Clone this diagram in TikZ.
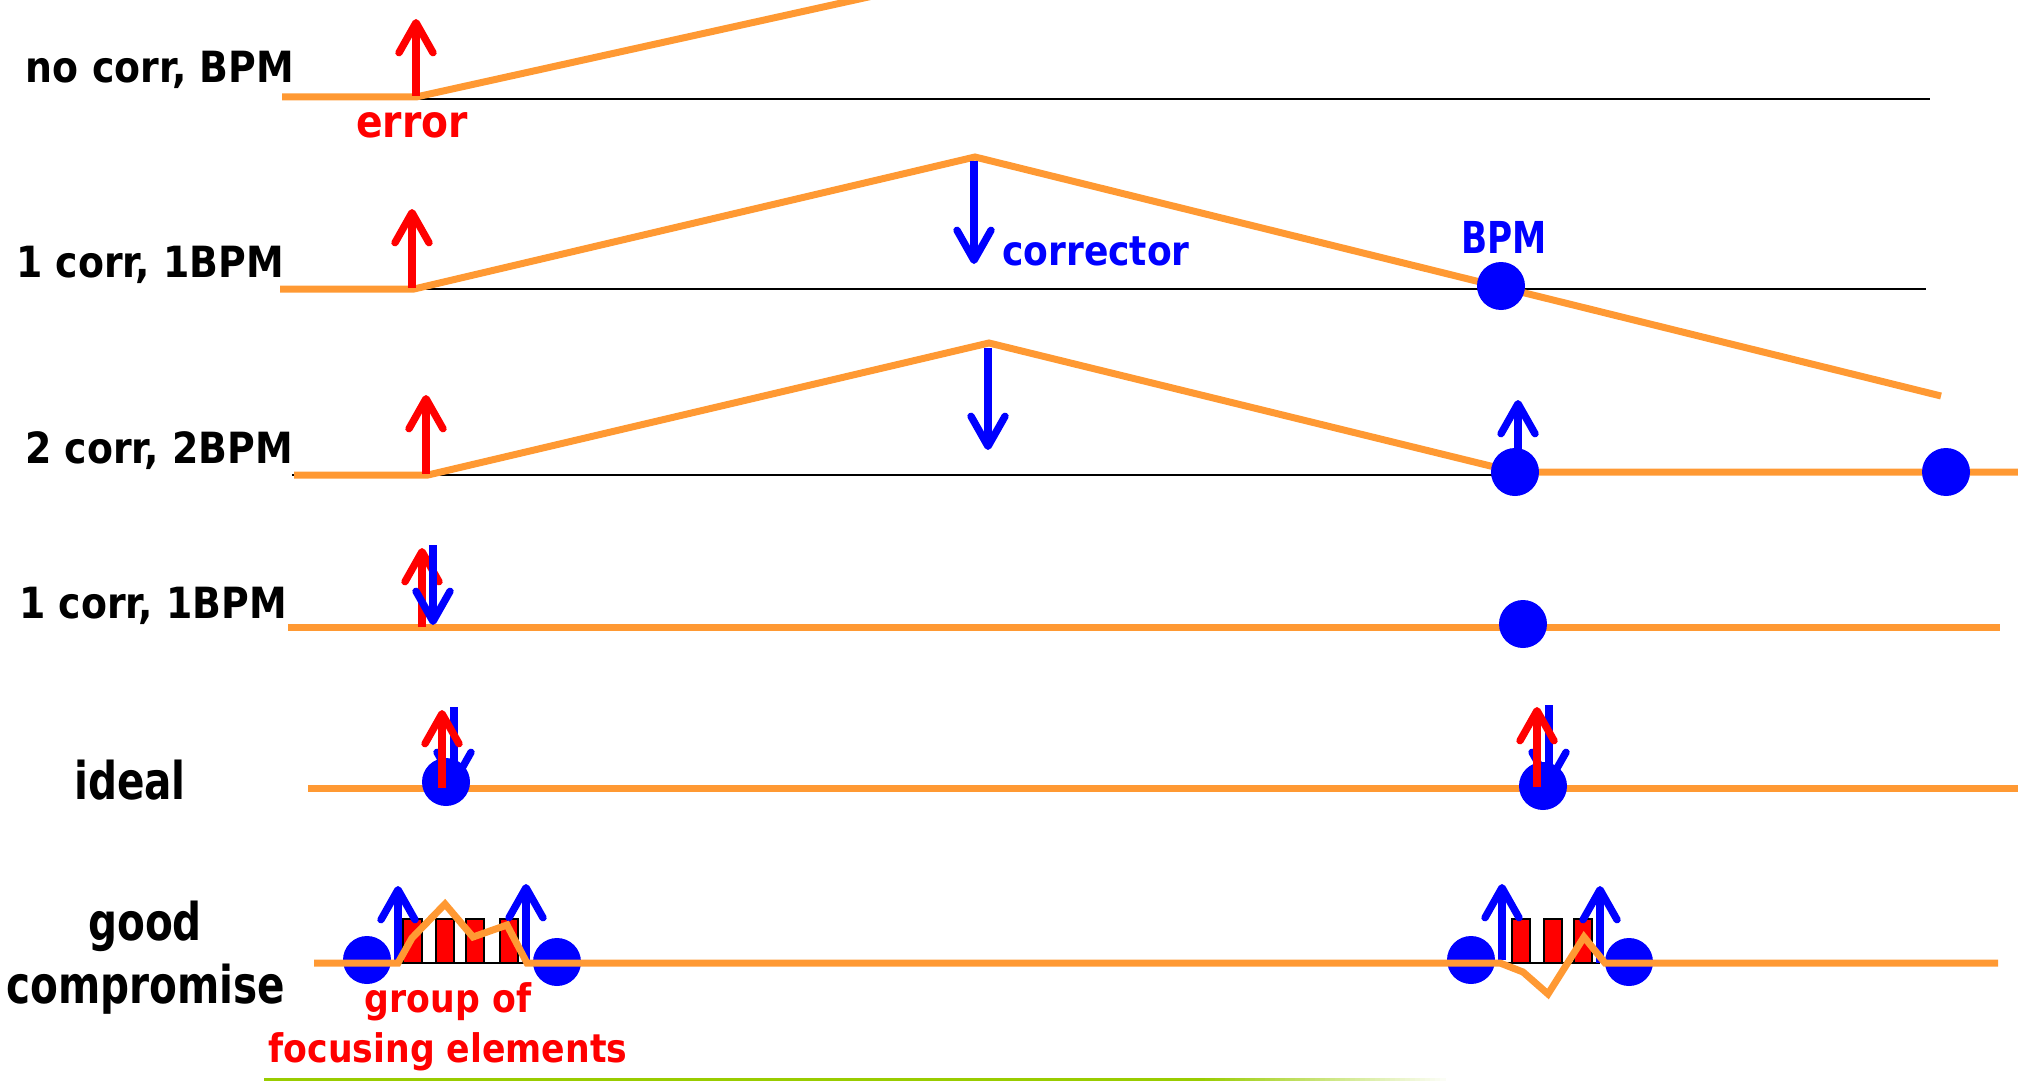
\documentclass[tikz,border=0pt]{standalone}
\usepackage{fontspec}
\usetikzlibrary{arrows.meta}
\newfontfamily\labfont[FakeStretch=0.88]{DejaVu Sans}
\newfontfamily\labfontn[FakeStretch=0.78]{DejaVu Sans}
\definecolor{beam}{RGB}{255,153,51}
\definecolor{bpmblue}{RGB}{0,0,255}
\definecolor{errred}{RGB}{255,0,0}
\definecolor{limegreen}{RGB}{153,204,0}
\tikzset{
  orbit/.style={draw=beam, line width=3.5pt},
  axisline/.style={draw=black, line width=1pt},
  kick/.style={line width=3.7pt, -{Straight Barb[length=15pt,width=17pt,round]}},
  errkick/.style={kick, draw=errred},
  corrkick/.style={kick, draw=bpmblue},
  bpm/.style={circle, fill=bpmblue, minimum size=24pt, inner sep=0pt},
  magnet/.style={fill=errred, draw=black, line width=1pt},
  lab/.style={inner sep=0pt, anchor=base, font=\labfont\bfseries\fontsize{21.5pt}{24pt}\selectfont},
  bigl/.style={inner sep=0pt, anchor=base, font=\labfontn\bfseries\fontsize{26pt}{28pt}\selectfont},
}
\begin{document}
\begin{tikzpicture}[x=0.5pt, y=-0.5pt]
\useasboundingbox (0,0) rectangle (2018,1081);

% ---------- row 1: no corr, BPM
\coordinate (a1s) at (416,99); \coordinate (a1e) at (1930,99);
\draw[axisline] (a1s) -- (a1e);
\coordinate (o1s) at (282,97); \coordinate (o1k) at (416,97); \coordinate (o1e) at (900,-10);
\draw[orbit] (o1s) -- (o1k) -- (o1e);
\coordinate (e1b) at (416,96); \coordinate (e1t) at (416,19);
\draw[errkick] (e1b) -- (e1t);
\node[lab] (t1) at (160,83) {no corr, BPM};
\node[lab, text=errred, font=\labfont\bfseries\fontsize{22.3pt}{24pt}\selectfont] (terr) at (412,138) {error};

% ---------- row 2: 1 corr, 1BPM
\coordinate (a2s) at (414,289); \coordinate (a2e) at (1926,289);
\draw[axisline] (a2s) -- (a2e);
\coordinate (o2s) at (280,289); \coordinate (o2k) at (414,289);
\coordinate (o2p) at (975,157); \coordinate (o2e) at (1941,396);
\draw[orbit] (o2s) -- (o2k) -- (o2p) -- (o2e);
\coordinate (e2b) at (412,288); \coordinate (e2t) at (412,209);
\draw[errkick] (e2b) -- (e2t);
\coordinate (c2t) at (974,161); \coordinate (c2b) at (974,264);
\draw[corrkick] (c2t) -- (c2b);
\node[bpm] (b2) at (1501,286) {};
\node[lab, text=bpmblue, font=\labfont\bfseries\fontsize{20.5pt}{24pt}\selectfont] (tcorr) at (1096,265) {corrector};
\node[bigl, text=bpmblue, font=\labfontn\bfseries\fontsize{22pt}{24pt}\selectfont] (tbpm) at (1504,253) {BPM};
\node[lab] (t2) at (150,277) {1 corr, 1BPM};

% ---------- row 3: 2 corr, 2BPM
\coordinate (a3s) at (292,475); \coordinate (a3e) at (1515,475);
\draw[axisline] (a3s) -- (a3e);
\coordinate (o3s) at (294,475); \coordinate (o3k) at (428,475);
\coordinate (o3p) at (989,343); \coordinate (o3b) at (1515,472); \coordinate (o3e) at (2030,472);
\draw[orbit] (o3s) -- (o3k) -- (o3p) -- (o3b) -- (o3e);
\coordinate (e3b) at (426,474); \coordinate (e3t) at (426,395);
\draw[errkick] (e3b) -- (e3t);
\coordinate (c3t) at (988,348); \coordinate (c3b) at (988,450);
\draw[corrkick] (c3t) -- (c3b);
\node[bpm] (b3a) at (1515,472) {};
\node[bpm] (b3b) at (1946,472) {};
\coordinate (c3u) at (1518,400);
\draw[corrkick] (b3a.north) ++(3,6) -- (c3u);
\node[lab] (t3) at (159,463) {2 corr, 2BPM};

% ---------- row 4: 1 corr, 1BPM
\coordinate (o4s) at (288,627); \coordinate (o4e) at (2000,627);
\draw[orbit] (o4s) -- (o4e);
\coordinate (e4b) at (422,627); \coordinate (e4t) at (422,548);
\draw[errkick] (e4b) -- (e4t);
\coordinate (c4t) at (433,545); \coordinate (c4b) at (433,625);
\draw[corrkick] (c4t) -- (c4b);
\node[bpm] (b4) at (1523,624) {};
\node[lab] (t4) at (153,618) {1 corr, 1BPM};

% ---------- row 5: ideal
\coordinate (o5s) at (308,788); \coordinate (o5e) at (2030,788);
\draw[orbit] (o5s) -- (o5e);
\coordinate (c5at) at (454,707); \coordinate (c5ab) at (454,786);
\coordinate (c5bt) at (1549,705); \coordinate (c5bb) at (1549,786);
\draw[corrkick] (c5at) -- (c5ab);
\draw[corrkick] (c5bt) -- (c5bb);
\node[bpm] (b5a) at (446,782) {};
\node[bpm] (b5b) at (1543,786) {};
\coordinate (e5ab) at (442,788); \coordinate (e5at) at (442,710);
\coordinate (e5bb) at (1537,787); \coordinate (e5bt) at (1537,707);
\draw[errkick] (e5ab) -- (e5at);
\draw[errkick] (e5bb) -- (e5bt);
\node[bigl] (t5) at (130,799) {ideal};

% ---------- row 6: good compromise
\node[bpm] (b6a) at (367,960) {};
\node[bpm] (b6b) at (557,962) {};
\node[bpm] (b6c) at (1471,960) {};
\node[bpm] (b6d) at (1629,962) {};
\coordinate (g1s) at (398,963); \coordinate (g1e) at (526,963);
\coordinate (g2s) at (1502,963); \coordinate (g2e) at (1600,963);
\draw[axisline] (g1s) -- (g1e);
\draw[axisline] (g2s) -- (g2e);
\foreach \xa/\xb [count=\i] in {403/422,436/454,466/484,500/518}
  \draw[magnet] (\xa,919) rectangle (\xb,963) coordinate (ql\i);
\foreach \xa/\xb [count=\i] in {1512/1530,1544/1562,1574/1592}
  \draw[magnet] (\xa,919) rectangle (\xb,963) coordinate (qr\i);
\coordinate (k1b) at (398,962); \coordinate (k1t) at (398,886);
\coordinate (k2b) at (526,962); \coordinate (k2t) at (526,884);
\coordinate (k3b) at (1502,960); \coordinate (k3t) at (1502,884);
\coordinate (k4b) at (1600,963); \coordinate (k4t) at (1600,886);
\draw[corrkick] (k1b) -- (k1t);
\draw[corrkick] (k2b) -- (k2t);
\draw[corrkick] (k3b) -- (k3t);
\draw[corrkick] (k4b) -- (k4t);
\coordinate (o6s) at (314,963); \coordinate (o6e) at (1998,963);
\draw[orbit] (o6s) -- (398,963) -- (412,938) -- (445,904) -- (473,937) -- (507,925)
  -- (527,963) -- (1500,963) -- (1523,972) -- (1548,994) -- (1584,937) -- (1605,963) -- (o6e);
\node[bigl] (t6a) at (145,940) {good};
\node[bigl] (t6b) at (146,1003) {compromise};
\node[lab, text=errred, font=\labfont\bfseries\fontsize{19.7pt}{22pt}\selectfont] (tg1) at (448,1012) {group of};
\node[lab, text=errred, font=\labfont\bfseries\fontsize{19.7pt}{22pt}\selectfont] (tg2) at (448,1062) {focusing elements};

% ---------- bottom rule (fading to white)
\fill[limegreen] (264,1077.5) rectangle (1200.5,1081);
\foreach \i in {0,...,48}
  \fill[limegreen!\the\numexpr 100-2*\i\relax!white] (1200+5*\i,1077.5) rectangle (1205.5+5*\i,1081);
\end{tikzpicture}
\end{document}
